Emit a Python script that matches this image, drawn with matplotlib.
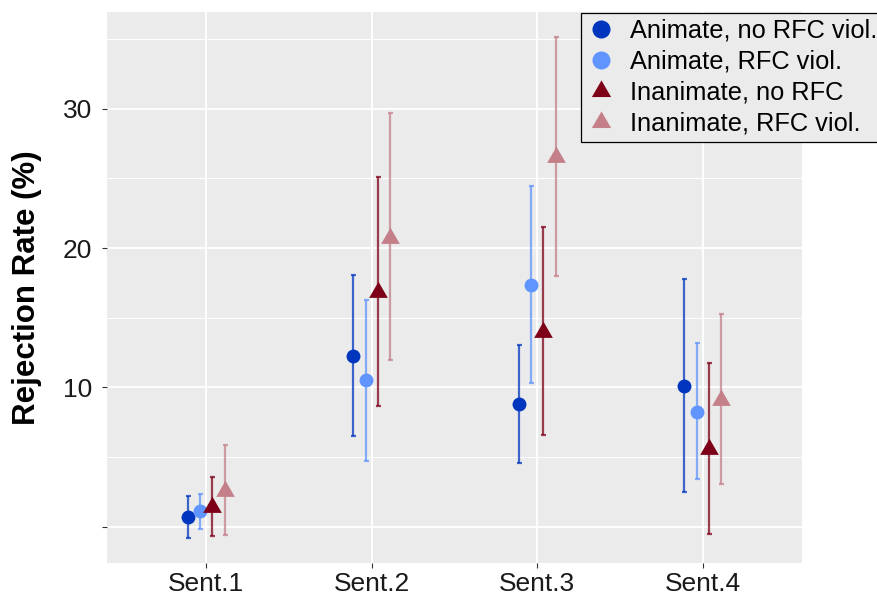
import numpy as np
import matplotlib
matplotlib.use('Agg')
import matplotlib.pyplot as plt
from matplotlib.lines import Line2D

plt.rcParams['font.family'] = ['Liberation Sans', 'DejaVu Sans']

sentences = ['Sent.1', 'Sent.2', 'Sent.3', 'Sent.4']
labels = ['Animate, no RFC viol.', 'Animate, RFC viol.', 'Inanimate, no RFC', 'Inanimate, RFC viol.']

# rejection rate (%) with lower / upper interval bounds, one list per condition
anim_norfc = [0.74, 12.26, 8.8, 10.13]
anim_norfc_lo = [-0.76, 6.5, 4.56, 2.5]
anim_norfc_hi = [2.25, 18.04, 13.05, 17.75]

anim_rfc = [1.15, 10.54, 17.35, 8.27]
anim_rfc_lo = [-0.17, 4.75, 10.3, 3.42]
anim_rfc_hi = [2.37, 16.27, 24.44, 13.17]

inan_norfc = [1.42, 16.85, 13.96, 5.6]
inan_norfc_lo = [-0.62, 8.67, 6.57, -0.48]
inan_norfc_hi = [3.58, 25.1, 21.48, 11.73]

inan_rfc = [2.6, 20.74, 26.5, 9.1]
inan_rfc_lo = [-0.55, 11.97, 18.0, 3.08]
inan_rfc_hi = [5.88, 29.7, 35.15, 15.25]

colors = ['#0036BE', '#6095FF', '#7D0018', '#C47F89']
offsets = [-0.1125, -0.0375, 0.0375, 0.1125]

# triangle centred on its centroid, like R's pch 17
tri = [(0, 1), (-0.866, -0.5), (0.866, -0.5), (0, 1)]
markers = ['o', 'o', tri, tri]
msizes = [10, 10, 15.5, 15.5]
leg_sizes = [13, 13, 16, 16]

series = [
    (anim_norfc, anim_norfc_lo, anim_norfc_hi),
    (anim_rfc, anim_rfc_lo, anim_rfc_hi),
    (inan_norfc, inan_norfc_lo, inan_norfc_hi),
    (inan_rfc, inan_rfc_lo, inan_rfc_hi),
]

fig = plt.figure(figsize=(8.77, 5.96), dpi=100)
ax = fig.add_axes([0.122, 0.0554, 0.7925, 0.9245])
ax.set_facecolor('#EBEBEB')
for s in ax.spines.values():
    s.set_visible(False)

x = np.arange(1, len(sentences) + 1)
for (mean, lo, hi), col, off, mk, ms in zip(series, colors, offsets, markers, msizes):
    mean, lo, hi = np.array(mean), np.array(lo), np.array(hi)
    xs = x + off
    ax.errorbar(xs, mean, yerr=[mean - lo, hi - mean], fmt='none', ecolor=col,
                elinewidth=1.6, capsize=1.8, capthick=1.6, alpha=0.75, zorder=3)
    ax.plot(xs, mean, linestyle='none', marker=mk, markersize=ms, color=col,
            markeredgewidth=0, zorder=4)

ax.set_xlim(0.4, 4.6)
ax.set_ylim(-2.58, 36.92)
ax.set_xticks(x)
ax.set_xticklabels(sentences)
ax.set_yticks([0, 10, 20, 30])
ax.set_yticklabels(['', '10', '20', '30'])
ax.set_yticks([5, 15, 25, 35], minor=True)
ax.tick_params(axis='both', which='major', length=3.5, width=0.8, color='#333333',
               labelsize=19, labelcolor='#1A1A1A', pad=3)
ax.tick_params(axis='y', which='major', pad=7)
ax.tick_params(axis='y', which='minor', length=0)
ax.grid(which='major', color='white', linewidth=1.3)
ax.grid(which='minor', axis='y', color='white', linewidth=0.7)
ax.set_axisbelow(True)

ax.set_ylabel('Rejection Rate (%)', fontsize=22.5, fontweight='bold', labelpad=15)

handles = [Line2D([], [], linestyle='none', marker=mk, markersize=ms, color=c, markeredgewidth=0)
           for mk, ms, c in zip(markers, leg_sizes, colors)]
leg = fig.legend(handles, labels, loc='upper left', bbox_to_anchor=(581 / 877, 1 - 13 / 596),
                 borderaxespad=0, fontsize=18.3, frameon=True, fancybox=False,
                 handlelength=1.1, handletextpad=0.6, labelspacing=0.28,
                 borderpad=0.22)
leg.get_frame().set_facecolor('#EBEBEB')
leg.get_frame().set_edgecolor('black')
leg.get_frame().set_linewidth(0.9)
leg.get_frame().set_alpha(1)

fig.savefig('out.png', dpi=100)
